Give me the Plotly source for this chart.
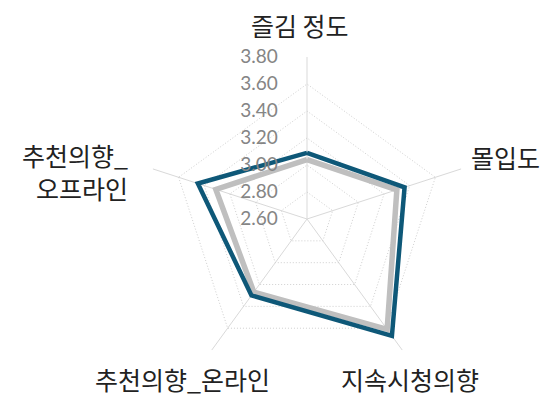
import plotly.graph_objects as go

categories = ["즐김 정도", "몰입도", "지속시청의향", "추천의향_온라인", "추천의향_오프라인"]
label_text = ["즐김 정도", "몰입도", "지속시청의향", "추천의향_온라인", "추천의향_<br>오프라인"]
series_gray = [3.04, 3.30, 3.61, 3.27, 3.31]
series_blue = [3.09, 3.36, 3.67, 3.30, 3.45]
tick_vals = [2.6, 2.8, 3.0, 3.2, 3.4, 3.6, 3.8]
tick_text = ["2.60", "2.80", "3.00", "3.20", "3.40", "3.60", "3.80"]

W, H = 558, 397
OFF = 8  # page body margin
cx, cy, R = 307 - OFF, 219 - OFF, 162

fig = go.Figure()
fig.add_trace(go.Scatterpolar(
    r=series_gray + series_gray[:1], theta=categories + categories[:1],
    mode="lines", line=dict(color="#bfbfbf", width=5.5), showlegend=False,
))
fig.add_trace(go.Scatterpolar(
    r=series_blue + series_blue[:1], theta=categories + categories[:1],
    mode="lines", line=dict(color="#0e5878", width=4.5), showlegend=False,
))

# category label placements (screen px): x, y, anchor
label_pos = [(300, 25, "center"), (505, 157, "center"), (410, 379, "center"),
             (182, 379, "center"), (130, 171, "right")]
annotations = []
for txt, (x, y, anc) in zip(label_text, label_pos):
    annotations.append(dict(
        text=txt, x=(x - OFF) / W, y=1 - (y - OFF) / H, xref="paper", yref="paper",
        xanchor=anc, yanchor="middle", showarrow=False, align="right",
        font=dict(size=25, color="#222222", family="Noto Sans CJK KR"),
    ))

fig.update_layout(
    width=W, height=H,
    margin=dict(l=0, r=0, t=0, b=0),
    paper_bgcolor="white", plot_bgcolor="white",
    font=dict(family="Noto Sans CJK KR, Noto Sans, sans-serif"),
    polar=dict(
        bgcolor="white",
        gridshape="linear",
        domain=dict(x=[(cx - R) / W, (cx + R) / W], y=[1 - (cy + R) / H, 1 - (cy - R) / H]),
        radialaxis=dict(
            range=[2.6, 3.8], tickvals=tick_vals, ticktext=tick_text,
            angle=90, tickangle=90, side="counterclockwise",
            showline=False, ticks="outside", ticklen=22, tickcolor="rgba(0,0,0,0)",
            gridcolor="#cfcfcf", griddash="1px,2px", gridwidth=1,
            tickfont=dict(size=19, color="#858585", family="Lato, Open Sans, sans-serif"),
        ),
        angularaxis=dict(
            rotation=90, direction="clockwise",
            showline=False, ticks="", showticklabels=False,
            gridcolor="#d9d9d9", gridwidth=1,
        ),
    ),
    annotations=annotations,
)

fig.write_html("out.html")
